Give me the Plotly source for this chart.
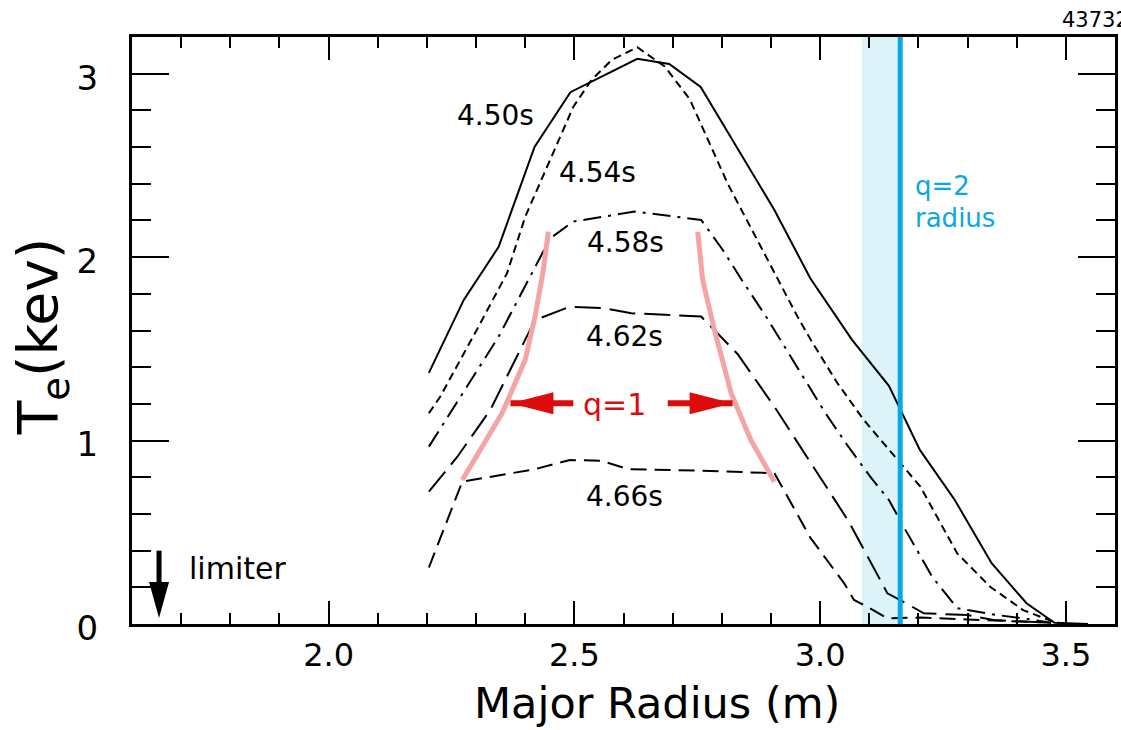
import plotly.graph_objects as go

# Electron temperature profiles vs major radius, one per time slice
R_450 = [2.204, 2.275, 2.346, 2.419, 2.492, 2.628, 2.693, 2.757, 2.907, 2.980, 3.065,
         3.140, 3.203, 3.274, 3.349, 3.420, 3.477, 3.545]
Te_450 = [1.369, 1.767, 2.056, 2.601, 2.899, 3.081, 3.053, 2.928, 2.257, 1.885, 1.549,
          1.298, 0.949, 0.676, 0.331, 0.113, 0.007, 0.0]

R_454 = [2.204, 2.227, 2.305, 2.363, 2.400, 2.441, 2.498, 2.535, 2.576, 2.628, 2.684,
         2.735, 2.812, 2.954, 2.981, 3.035, 3.089, 3.158, 3.204, 3.279, 3.346, 3.413,
         3.474, 3.50]
Te_454 = [1.149, 1.239, 1.621, 1.912, 2.220, 2.475, 2.820, 2.966, 3.075, 3.144, 3.039,
          2.860, 2.400, 1.676, 1.549, 1.314, 1.112, 0.894, 0.749, 0.385, 0.203, 0.076,
          0.013, 0.0]

R_458 = [2.204, 2.346, 2.451, 2.498, 2.623, 2.758, 2.802, 2.843, 2.890, 2.930, 2.971,
         3.011, 3.055, 3.102, 3.140, 3.170, 3.228, 3.279, 3.300, 3.360, 3.413, 3.470]
Te_458 = [0.967, 1.567, 2.103, 2.194, 2.248, 2.203, 2.039, 1.866, 1.676, 1.503, 1.321,
          1.149, 0.976, 0.803, 0.676, 0.530, 0.258, 0.086, 0.076, 0.049, 0.031, 0.007]

R_462 = [2.204, 2.262, 2.329, 2.397, 2.420, 2.491, 2.562, 2.616, 2.758, 2.832, 2.907,
         3.058, 3.137, 3.167, 3.211, 3.300, 3.353, 3.413, 3.470]
Te_462 = [0.721, 0.912, 1.167, 1.531, 1.657, 1.730, 1.721, 1.694, 1.676, 1.472, 1.185,
          0.560, 0.167, 0.125, 0.058, 0.049, 0.022, 0.013, 0.007]

R_466 = [2.204, 2.272, 2.420, 2.491, 2.555, 2.609, 2.758, 2.907, 2.981, 3.049, 3.069,
         3.096, 3.137, 3.205, 3.300, 3.413, 3.470]
Te_466 = [0.308, 0.776, 0.844, 0.894, 0.890, 0.844, 0.836, 0.822, 0.467, 0.222, 0.131,
          0.094, 0.031, 0.035, 0.025, 0.015, 0.007]

# q=1 surface trajectory (inner and outer side)
R_q1_in = [2.272, 2.353, 2.400, 2.420, 2.437, 2.447]
Te_q1_in = [0.785, 1.149, 1.440, 1.676, 1.930, 2.139]
R_q1_out = [2.751, 2.761, 2.785, 2.819, 2.859, 2.907]
Te_q1_out = [2.139, 1.876, 1.603, 1.258, 1.003, 0.776]

# q=2 location and its uncertainty band
R_q2 = 3.163
R_q2_band = [3.085, 3.163]
R_limiter = 1.655

times = ["4.50s", "4.54s", "4.58s", "4.62s", "4.66s"]
label_pos = [(2.339, 2.771), (2.548, 2.462), (2.604, 2.080), (2.603, 1.567), (2.603, 0.697)]

FONT = "DejaVu Sans"
RED = "#dd0b0b"
CYAN = "#0aa8e2"

profiles = [
    (R_450, Te_450, "solid"),
    (R_454, Te_454, "8px,5px"),
    (R_458, Te_458, "18px,7px,3px,7px"),
    (R_462, Te_462, "26px,9px"),
    (R_466, Te_466, "16px,8px"),
]

fig = go.Figure()
for (r, te, dash), name in zip(profiles, times):
    fig.add_trace(go.Scatter(x=r, y=te, mode="lines", name=name,
                             line=dict(color="black", width=2, dash=dash)))

for r, te in [(R_q1_in, Te_q1_in), (R_q1_out, Te_q1_out)]:
    fig.add_trace(go.Scatter(x=r, y=te, mode="lines", name="q=1",
                             line=dict(color="#f4a4a4", width=5)))

shapes = [
    dict(type="rect", xref="x", yref="paper", x0=R_q2_band[0], x1=R_q2_band[1], y0=0, y1=1,
         fillcolor="#dcf3fa", line=dict(width=0), layer="below"),
    dict(type="line", xref="x", yref="paper", x0=R_q2, x1=R_q2, y0=0, y1=1,
         line=dict(color=CYAN, width=5), layer="above"),
]

# red arrows pointing at the q=1 surfaces
arrow_y = 1.203
for tip, tail, sgn in [(2.370, 2.498, 1), (2.822, 2.690, -1)]:
    shapes.append(dict(type="line", xref="x", yref="y", x0=tip, x1=tail, y0=arrow_y, y1=arrow_y,
                       line=dict(color=RED, width=6), layer="above"))
    shapes.append(dict(type="path", xref="x", yref="y", xsizemode="pixel", ysizemode="pixel",
                       xanchor=tip, yanchor=arrow_y,
                       path=f"M0,0 L{43*sgn},11 L{43*sgn},-11 Z",
                       fillcolor=RED, line=dict(width=0), layer="above"))

# limiter arrow
shapes.append(dict(type="line", xref="x", yref="y", x0=R_limiter, x1=R_limiter, y0=0.15, y1=0.40,
                   line=dict(color="black", width=5), layer="above"))
shapes.append(dict(type="path", xref="x", yref="y", xsizemode="pixel", ysizemode="pixel",
                   xanchor=R_limiter, yanchor=0.033,
                   path="M0,0 L-10,36 L10,36 Z",
                   fillcolor="black", line=dict(width=0), layer="above"))

annotations = [
    dict(x=x, y=y, xref="x", yref="y", text=t, showarrow=False,
         xanchor="center", yanchor="middle",
         font=dict(family=FONT, size=28, color="black"))
    for t, (x, y) in zip(times, label_pos)
]
annotations += [
    dict(x=2.582, y=1.195, xref="x", yref="y", text="q=1", showarrow=False,
         xanchor="center", yanchor="middle",
         font=dict(family=FONT, size=30, color=RED)),
    dict(x=3.189, y=2.388, xref="x", yref="y", text="q=2", showarrow=False,
         xanchor="left", yanchor="middle",
         font=dict(family=FONT, size=26, color=CYAN)),
    dict(x=3.189, y=2.215, xref="x", yref="y", text="radius", showarrow=False,
         xanchor="left", yanchor="middle",
         font=dict(family=FONT, size=26, color=CYAN)),
    dict(x=1.712, y=0.305, xref="x", yref="y", text="limiter", showarrow=False,
         xanchor="left", yanchor="middle",
         font=dict(family=FONT, size=30, color="black")),
    dict(x=(1063 - 132) / 986, y=1 + (37 - 20) / 587, xref="paper", yref="paper", text="43732",
         showarrow=False, xanchor="left", yanchor="middle",
         font=dict(family=FONT, size=21, color="black")),
    dict(x=(659 - 132) / 986, y=(624 - 703) / 587, xref="paper", yref="paper",
         text="Major Radius (m)", showarrow=False, xanchor="center", yanchor="middle",
         font=dict(family=FONT, size=43, color="black")),
    dict(x=(42 - 132) / 986, y=(624 - 336) / 587, xref="paper", yref="paper",
         text="T<sub>e</sub>(kev)", textangle=-90, showarrow=False,
         xanchor="center", yanchor="middle",
         font=dict(family=FONT, size=55, color="black")),
]

axis_common = dict(showline=True, linewidth=3, linecolor="black", mirror="ticks",
                   ticks="inside", tickcolor="black", tickwidth=2.3, showgrid=False,
                   zeroline=False)

fig.update_layout(
    width=1121, height=730,
    margin=dict(l=132, r=3, t=37, b=106),
    paper_bgcolor="white", plot_bgcolor="white",
    showlegend=False,
    shapes=shapes,
    annotations=annotations,
    xaxis=dict(range=[1.6, 3.6], tick0=0, dtick=0.5, tickformat=".1f", ticklen=23,
               ticklabelstandoff=1,
               tickfont=dict(family=FONT, size=32, color="black"),
               minor=dict(dtick=0.1, ticklen=11, tickwidth=2.3, tickcolor="black", ticks="inside"),
               **axis_common),
    yaxis=dict(range=[0, 3.2], tick0=0, dtick=1, ticklen=37, ticklabelstandoff=24,
               ticklabelshift=4,
               tickfont=dict(family=FONT, size=34, color="black"),
               minor=dict(dtick=0.2, ticklen=19, tickwidth=2.3, tickcolor="black", ticks="inside"),
               **axis_common),
)

fig.write_html("out.html")
